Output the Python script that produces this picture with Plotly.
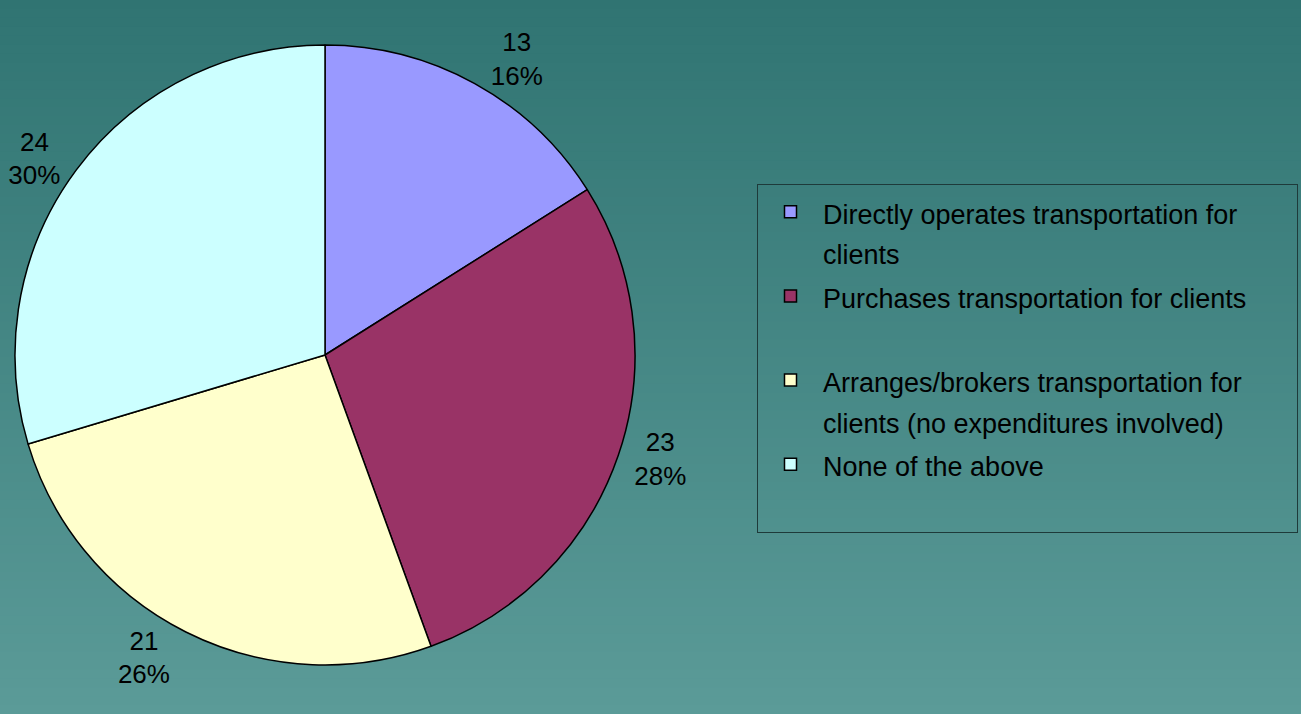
import plotly.graph_objects as go

labels = [
    "Directly operates transportation for<br>clients",
    "Purchases transportation for clients" + "&nbsp;" * 6 + "<br> ",
    "Arranges/brokers transportation for<br>clients (no expenditures involved)",
    "None of the above<br> ",
]
values = [13, 23, 21, 24]
colors = ["#9999FF", "#993366", "#FFFFCC", "#CCFFFF"]

W, H = 1301, 714
top_rgb = (0x30, 0x74, 0x72)
bot_rgb = (0x5B, 0x9B, 0x98)
FONT = "Liberation Sans, Arial"

legend_labels = [f"<span style='font-size:27px'>{t}</span>" for t in labels]

fig = go.Figure()
fig.add_trace(go.Pie(
    labels=legend_labels,
    values=values,
    sort=False,
    direction="clockwise",
    rotation=0,
    marker=dict(colors=colors, line=dict(color="black", width=1.5)),
    texttemplate="%{value}<br>%{percent:.0%}",
    textposition="outside",
    textfont=dict(family=FONT, size=26, color="black"),
    domain=dict(x=[15 / W, 635 / W], y=[(H - 665) / H, (H - 45) / H]),
    hoverinfo="value+percent",
))

# vertical gradient background
n = 80
shapes = []
for i in range(n):
    t = (i + 0.5) / n
    r = round(top_rgb[0] + (bot_rgb[0] - top_rgb[0]) * t)
    g = round(top_rgb[1] + (bot_rgb[1] - top_rgb[1]) * t)
    b = round(top_rgb[2] + (bot_rgb[2] - top_rgb[2]) * t)
    shapes.append(dict(
        type="rect", xref="paper", yref="paper",
        x0=0, x1=1, y0=1 - (i + 1) / n - 0.002, y1=1 - i / n,
        fillcolor=f"rgb({r},{g},{b})", line=dict(width=0), layer="below",
    ))

fig.update_layout(
    width=W, height=H,
    margin=dict(l=0, r=0, t=0, b=0),
    paper_bgcolor="rgb(70,135,132)",
    plot_bgcolor="rgba(0,0,0,0)",
    shapes=shapes,
    font=dict(family=FONT, size=24, color="black"),
    showlegend=True,
    legend=dict(
        x=757 / W, xanchor="left",
        y=1 - 184 / H, yanchor="top",
        bgcolor="rgba(0,0,0,0)",
        bordercolor="#1E3A3A", borderwidth=1,
        font=dict(family=FONT, size=31.2, color="black"),
        valign="top",
        itemwidth=55,
    ),
)

fig.write_html(
    "out.html",
    config={"displayModeBar": False},
    post_script="document.body.style.margin='0';document.body.style.padding='0';",
)
